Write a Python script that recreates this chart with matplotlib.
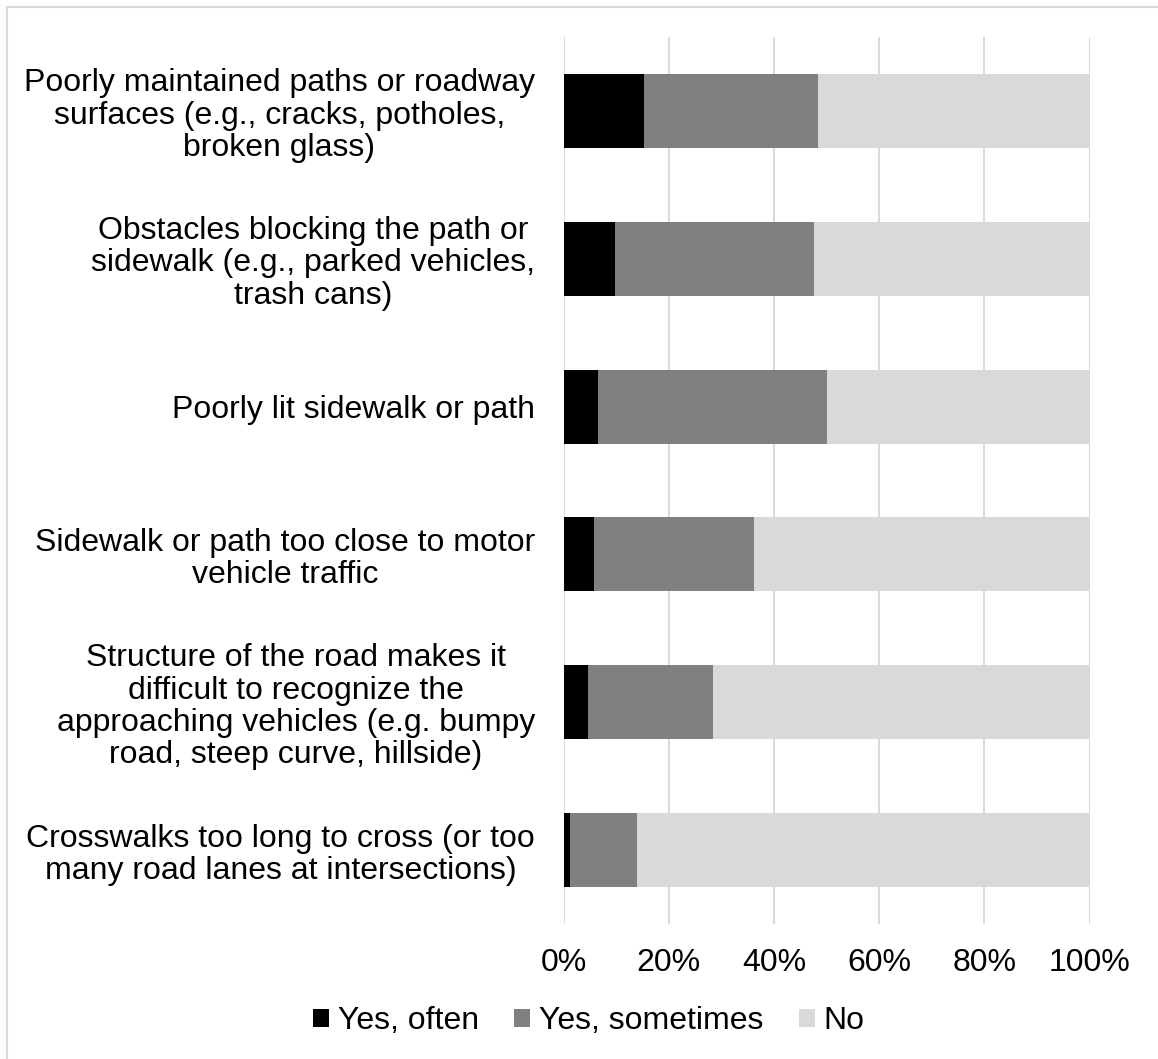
import matplotlib.pyplot as plt
from matplotlib.patches import Rectangle

plt.rcParams['font.family'] = ['Liberation Sans', 'DejaVu Sans']

# data (percent)
categories = [
    'Poorly maintained paths or roadway\nsurfaces (e.g., cracks, potholes,\nbroken glass)',
    'Obstacles blocking the path or\nsidewalk (e.g., parked vehicles,\ntrash cans)',
    'Poorly lit sidewalk or path',
    'Sidewalk or path too close to motor\nvehicle traffic',
    'Structure of the road makes it\ndifficult to recognize the\napproaching vehicles (e.g. bumpy\nroad, steep curve, hillside)',
    'Crosswalks too long to cross (or too\nmany road lanes at intersections)',
]
yes_often = [15.3, 9.7, 6.6, 5.8, 4.7, 1.2]
yes_sometimes = [33.1, 37.9, 43.5, 30.4, 23.7, 12.8]
no = [51.6, 52.4, 49.9, 63.8, 71.6, 86.0]
series_names = ['Yes, often', 'Yes, sometimes', 'No']
colors = ['#000000', '#808080', '#D9D9D9']

fs = 23

fig = plt.figure(figsize=(11.58, 10.59), dpi=100)
ax = fig.add_axes([563.5 / 1158, 1 - 924 / 1059, 526 / 1158, 887 / 1059])

y = list(range(len(categories)))
left = [0] * len(categories)
for vals, name, c in zip([yes_often, yes_sometimes, no], series_names, colors):
    ax.barh(y, vals, left=left, height=0.5, color=c, label=name, zorder=3)
    left = [l + v for l, v in zip(left, vals)]

ax.set_xlim(0, 100)
ax.set_ylim(len(categories) - 0.5, -0.5)
ax.set_xticks(range(0, 101, 20))
ax.set_xticklabels([f'{v}%' for v in range(0, 101, 20)], fontsize=fs)
ax.set_yticks(y)
ax.set_yticklabels(categories, fontsize=fs, multialignment='center', linespacing=1.1)
ax.tick_params(axis='both', length=0)
ax.tick_params(axis='y', pad=20.5)
ax.tick_params(axis='x', pad=17.5)
ax.grid(axis='x', color='#D9D9D9', linewidth=1.4, zorder=0)
for s in ax.spines.values():
    s.set_visible(False)

fig.legend(loc='center', bbox_to_anchor=(589 / 1158, 1 - 1021 / 1059), ncol=3,
           frameon=False, fontsize=fs, handlelength=0.5, handleheight=0.5,
           handletextpad=0.28, columnspacing=1.1)

# outer chart border (only top/left visible in the reference)
fig.patches.append(Rectangle((7 / 1158, -0.1), 1.2, 1.1 - 7 / 1059,
                             transform=fig.transFigure, fill=False,
                             edgecolor='#D9D9D9', linewidth=1.5))

fig.savefig('out.png', dpi=100)
